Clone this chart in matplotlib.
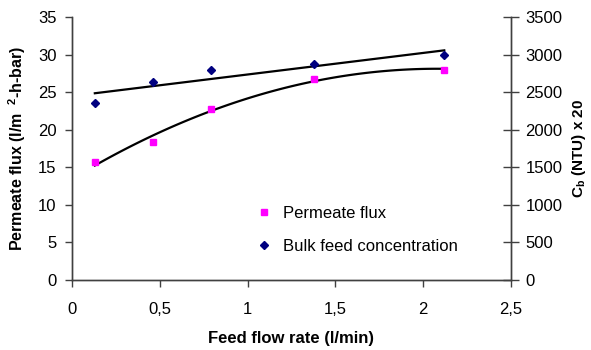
import numpy as np
import matplotlib.pyplot as plt
from matplotlib.ticker import FuncFormatter

plt.rcParams['font.family'] = ['Liberation Sans', 'DejaVu Sans']
plt.rcParams['mathtext.fontset'] = 'custom'
plt.rcParams['mathtext.rm'] = 'Liberation Sans'
plt.rcParams['mathtext.bf'] = 'Liberation Sans:bold'

# data
flow = [0.13, 0.46, 0.79, 1.38, 2.12]          # feed flow rate (l/min)
flux = [15.7, 18.3, 22.8, 26.7, 28.0]          # permeate flux
bulk = [2350, 2630, 2800, 2870, 2990]          # Cb (NTU) x 20

fig = plt.figure(figsize=(5.91, 3.5), dpi=100)
ax = fig.add_axes([72/591, 1-280/350, (511-72)/591, (280-17)/350])
ax2 = ax.twinx()

# trend lines (excel style: 2nd order poly for flux, linear for bulk)
xs = np.linspace(flow[0], flow[-1], 100)
pf = np.polyfit(flow, flux, 2)
ax.plot(xs, np.polyval(pf, xs), color='black', lw=1.6, zorder=2)
pb = np.polyfit(flow, bulk, 1)
ax2.plot(xs, np.polyval(pb, xs), color='black', lw=1.6, zorder=2)

ax.plot(flow, flux, 's', color='#ff00ff', ms=5, ls='none', zorder=3,
        label='Permeate flux')
ax2.plot(flow, bulk, 'D', color='#000080', ms=4.5, ls='none', zorder=3,
         label='Bulk feed concentration')

ax.set_xlim(0, 2.5)
ax.set_ylim(0, 35)
ax2.set_ylim(0, 3500)
ax.set_xticks(np.arange(0, 2.51, 0.5))
ax.set_yticks(np.arange(0, 36, 5))
ax2.set_yticks(np.arange(0, 3501, 500))
comma = FuncFormatter(lambda v, p: ('%g' % v).replace('.', ','))
ax.xaxis.set_major_formatter(comma)

for a in (ax, ax2):
    a.spines['top'].set_visible(False)
    for s in a.spines.values():
        s.set_color('#404040')
        s.set_linewidth(1.0)
ax.tick_params(axis='x', direction='out', length=5, width=1, color='#404040',
               labelsize=12, pad=11)
ax.tick_params(axis='y', direction='out', length=5, width=1, color='#404040',
               labelsize=12, pad=6)
ax2.tick_params(axis='y', direction='inout', length=11, width=1, color='#404040',
                labelsize=12, pad=5)

ax.set_xlabel('Feed flow rate (l/min)', fontsize=12, fontweight='bold', labelpad=10)
ax.set_ylabel(r'Permeate flux (l/m  $^{\mathbf{2}}$-h-bar)', fontsize=11.5,
              fontweight='bold', labelpad=7)
ax2.set_ylabel(r'C$_{\mathbf{b}}$ (NTU) x 20', fontsize=11, fontweight='bold',
               labelpad=5)

h1, l1 = ax.get_legend_handles_labels()
h2, l2 = ax2.get_legend_handles_labels()
ax2.legend(h1 + h2, l1 + l2, frameon=False, fontsize=12,
           loc='center left', bbox_to_anchor=(0.4, 0.19), handletextpad=0.6,
           labelspacing=1.1, handlelength=1.0, borderpad=0)

fig.savefig('out.png', dpi=100)
